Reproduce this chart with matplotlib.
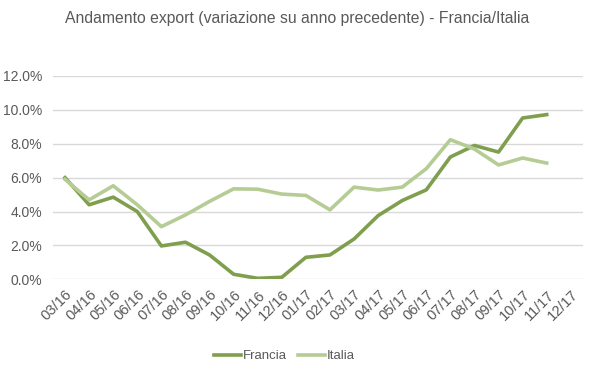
import matplotlib
matplotlib.use("Agg")
import matplotlib.pyplot as plt
from matplotlib.ticker import FuncFormatter

months = ["03/16", "04/16", "05/16", "06/16", "07/16", "08/16", "09/16", "10/16",
          "11/16", "12/16", "01/17", "02/17", "03/17", "04/17", "05/17", "06/17",
          "07/17", "08/17", "09/17", "10/17", "11/17", "12/17"]
francia = [6.0, 4.4, 4.85, 4.0, 1.97, 2.19, 1.44, 0.3, 0.06, 0.12, 1.3, 1.44,
           2.38, 3.76, 4.65, 5.28, 7.22, 7.9, 7.51, 9.52, 9.72]
italia = [5.9, 4.69, 5.52, 4.4, 3.11, 3.8, 4.6, 5.34, 5.32, 5.03, 4.95, 4.1,
          5.44, 5.27, 5.44, 6.53, 8.24, 7.69, 6.75, 7.16, 6.86]
yticks = [0, 2, 4, 6, 8, 10, 12]

plt.rcParams["font.family"] = ["Liberation Sans", "DejaVu Sans"]

fig = plt.figure(figsize=(5.99, 3.78), dpi=100)
ax = fig.add_axes([0.0885, 0.261, 0.8845, 0.538])

x = list(range(len(months)))
ax.plot(x[:len(francia)], francia, color="#7F9F4F", lw=2.6, label="Francia")
ax.plot(x[:len(italia)], italia, color="#B5CC95", lw=2.6, label="Italia")

ax.set_xlim(-0.5, len(months) - 0.5)
ax.set_ylim(0, 12)
ax.set_yticks(yticks)
ax.yaxis.set_major_formatter(FuncFormatter(lambda v, p: f"{v:.1f}%"))
ax.set_xticks(x)
ax.set_xticklabels(months, rotation=45, ha="right", rotation_mode="anchor")
ax.grid(axis="y", color="#D9D9D9", lw=1)
ax.set_axisbelow(True)
for s in ax.spines.values():
    s.set_visible(False)
ax.tick_params(axis="y", length=0, labelsize=10, colors="#595959", pad=8)
ax.tick_params(axis="x", length=0, labelsize=10.5, colors="#595959", pad=6)

fig.suptitle("Andamento export (variazione su anno precedente) - Francia/Italia",
             x=0.496, y=0.972, fontsize=11.3, color="#595959")
fig.legend(loc="center", bbox_to_anchor=(0.475, 0.058), ncol=2, frameon=False,
           fontsize=9.5, labelcolor="#595959", handlelength=2.0, handletextpad=0.15,
           columnspacing=0.9)
fig.savefig("out.png", dpi=100)
